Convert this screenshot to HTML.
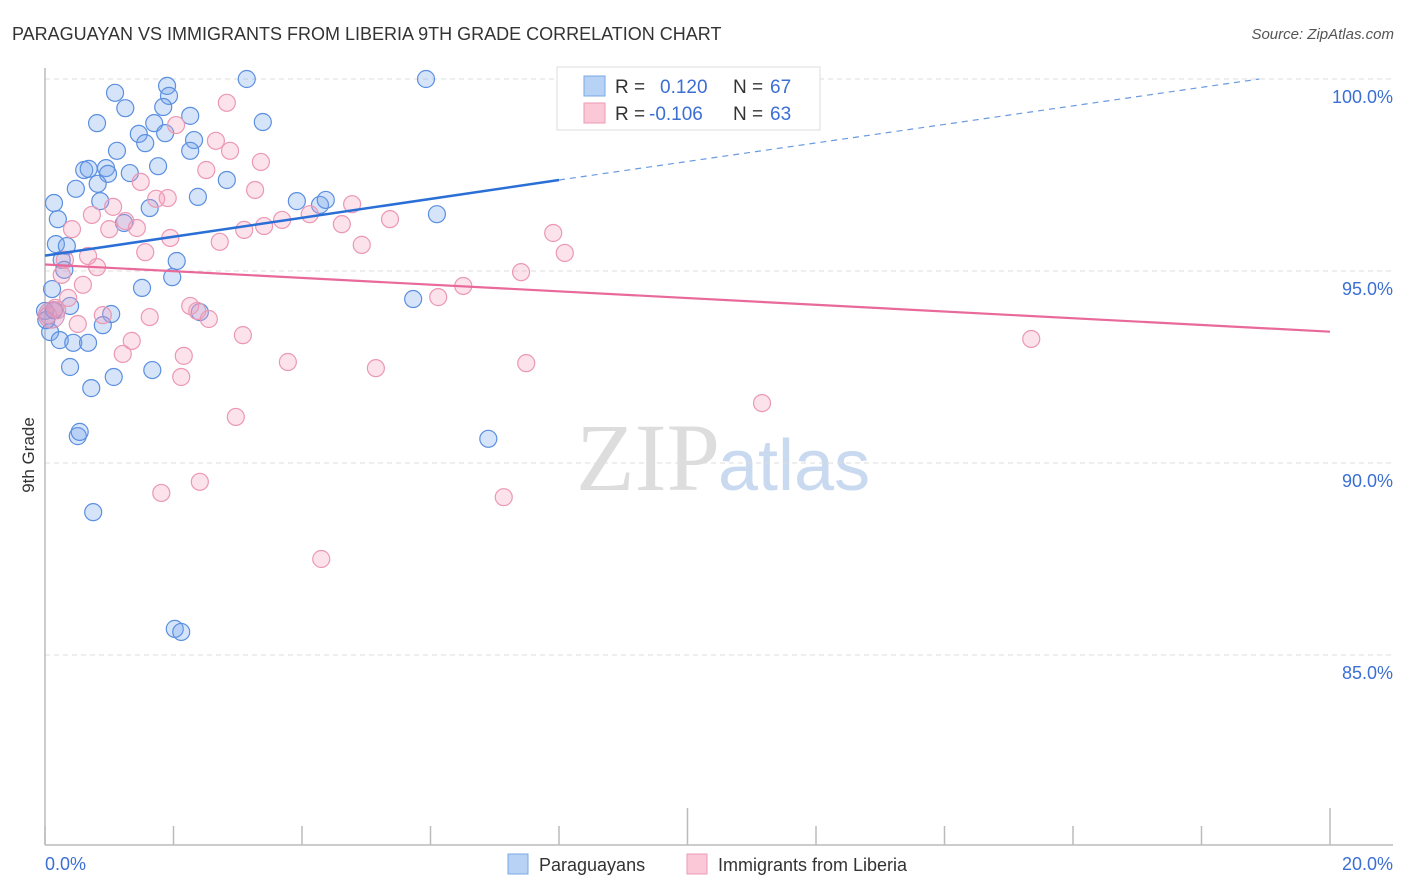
<!DOCTYPE html>
<html><head><meta charset="utf-8"><style>
body{margin:0;background:#fff;font-family:"Liberation Sans",sans-serif;}
svg{display:block}
</style></head><body>
<svg id="chart" width="1406" height="892" xmlns="http://www.w3.org/2000/svg">
<text x="12" y="40" font-size="18" fill="#333">PARAGUAYAN VS IMMIGRANTS FROM LIBERIA 9TH GRADE CORRELATION CHART</text>
<text x="1394" y="39" font-size="15" fill="#555" font-style="italic" text-anchor="end">Source: ZipAtlas.com</text>
<text x="34" y="455" font-size="17" fill="#333" transform="rotate(-90 34 455)" text-anchor="middle">9th Grade</text>
<text x="720" y="490" font-size="96" fill="#ddd" text-anchor="end" font-family="Liberation Serif,serif">ZIP</text>
<text x="718" y="490" font-size="72" fill="#c9d9f0">atlas</text>
<g id="grid"></g><g id="axes"></g><g id="pts"></g><g id="trend"></g>
<g>
<rect x="557" y="67" width="263" height="63" fill="#fff" stroke="#ddd"/>
<rect x="584" y="76" width="21" height="20" fill="#b8d2f5" stroke="#7aa7e6"/>
<rect x="584" y="103" width="21" height="20" fill="#fbc8d7" stroke="#ee9ab5"/>
<text x="615" y="93" font-size="19" fill="#333">R = </text><text x="660" y="93" font-size="19" fill="#3b6fd4">0.120</text>
<text x="733" y="93" font-size="19" fill="#333">N = </text><text x="770" y="93" font-size="19" fill="#3b6fd4">67</text>
<text x="615" y="120" font-size="19" fill="#333">R = </text><text x="649" y="120" font-size="19" fill="#3b6fd4">-0.106</text>
<text x="733" y="120" font-size="19" fill="#333">N = </text><text x="770" y="120" font-size="19" fill="#3b6fd4">63</text>
</g>
<g>
<rect x="508" y="854" width="20" height="20" fill="#b8d2f5" stroke="#7aa7e6"/>
<text x="539" y="871" font-size="18" fill="#333">Paraguayans</text>
<rect x="687" y="854" width="20" height="20" fill="#fbc8d7" stroke="#ee9ab5"/>
<text x="718" y="871" font-size="18" fill="#333">Immigrants from Liberia</text>
</g>
</svg>
<script>
const blueX=[1.09,1.90,1.93,3.14,5.93,1.25,0.81,1.84,2.26,3.39,1.70,1.46,1.87,2.32,1.56,1.12,2.26,1.76,0.61,0.68,0.95,0.98,1.32,0.82,0.48,2.83,2.38,0.86,1.63,3.92,4.28,4.37,6.10,0.14,0.20,1.23,0.17,0.34,0.26,0.30,2.05,1.98,0.11,0.39,1.51,1.03,0.90,2.41,5.73,0.08,0.23,0.44,0.67,0.39,1.07,1.67,0.72,0.51,0.54,6.90,0.75,2.02,2.12,0,0.02,0.14];
const blueY=[99.64,99.82,99.56,100,100,99.24,98.85,99.27,99.04,98.88,98.85,98.57,98.59,98.41,98.33,98.13,98.13,97.73,97.63,97.66,97.68,97.53,97.55,97.27,97.14,97.37,96.93,96.82,96.64,96.82,96.72,96.85,96.48,96.77,96.35,96.25,95.70,95.65,95.29,95.03,95.26,94.84,94.53,94.09,94.56,93.88,93.59,93.93,94.27,93.41,93.20,93.13,93.13,92.50,92.24,92.42,91.95,90.70,90.81,90.63,88.72,85.68,85.60,93.96,93.72,93.98];
const pinkX=[9.42,2.83,2.04,2.66,2.88,3.36,1.49,2.51,1.91,1.73,3.27,1.06,0.73,1.25,1.00,0.42,1.43,1.56,1.95,2.72,3.10,3.41,3.69,4.12,4.62,4.78,5.37,4.93,7.91,8.09,7.41,6.51,6.12,0.67,0.81,0.31,0.26,0.59,0.36,0.19,0.05,0.90,0.51,1.63,2.26,2.37,2.55,1.35,1.21,2.16,3.08,3.78,5.15,7.49,2.12,2.97,11.16,15.35,1.81,2.41,7.14,4.30,0.16];
const pinkY=[100,99.38,98.80,98.39,98.13,97.84,97.32,97.63,96.90,96.88,97.11,96.67,96.46,96.30,96.09,96.09,96.12,95.49,95.86,95.76,96.07,96.17,96.33,96.48,96.22,96.74,96.35,95.68,95.99,95.47,94.97,94.61,94.32,95.39,95.10,95.29,94.90,94.64,94.30,93.98,93.85,93.85,93.62,93.80,94.09,93.96,93.75,93.18,92.84,92.79,93.33,92.63,92.47,92.60,92.24,91.20,91.56,93.23,89.22,89.51,89.11,87.50,94.04];
const yTicks=[100,95,90,85];
const yTickLabels=["100.0%","95.0%","90.0%","85.0%"];
const xTicks=[0,2,4,6,8,10,12,14,16,18,20];
const blueTrend=[95.4,97.37,100]; const blueTrendX=[0,8,18.9];
const pinkTrend=[95.17,93.42]; const pinkTrendX=[0,20];
const NS="http://www.w3.org/2000/svg";
const sx=v=>45+v*64.25, sy=v=>79+(100-v)*38.4;
function mk(tag,attrs,parent){const e=document.createElementNS(NS,tag);for(const k in attrs)e.setAttribute(k,attrs[k]);document.getElementById(parent).appendChild(e);return e;}
yTicks.forEach((t,i)=>{
 const l=mk('line',{x1:45,x2:1393,y1:sy(t),y2:sy(t),stroke:'#ddd','stroke-dasharray':'5,4'},'grid');
 
 
 const tx=mk('text',{x:1393,y:sy(t)+24,'font-size':18,fill:'#3b6fd4','text-anchor':'end'},'grid');
 tx.textContent=yTickLabels[i];
 
 
});
const ax=mk('line',{x1:45,x2:45,y1:68,y2:845,stroke:'#bbb','stroke-width':1.5},'axes');


const bx=mk('line',{x1:45,x2:1393,y1:845,y2:845,stroke:'#bbb','stroke-width':1.5},'axes');


xTicks.forEach(t=>{
 const major=(t===10||t===20);
 const l=mk('line',{x1:sx(t),x2:sx(t),y1:major?808:826,y2:845,stroke:'#bbb','stroke-width':1.5},'axes');
 
 
});
const x0=mk('text',{x:45,y:870,'font-size':18,fill:'#3b6fd4'},'axes');x0.textContent='0.0%';


const x1=mk('text',{x:1393,y:870,'font-size':18,fill:'#3b6fd4','text-anchor':'end'},'axes');x1.textContent='20.0%';


function pts(X,Y,fill,stroke,name){X.forEach((x,i)=>{
 const c=mk('circle',{cx:sx(x),cy:sy(Y[i]),r:8.5,fill:fill,stroke:stroke,'stroke-width':1.2},'pts');
 
 
});}
pts(blueX,blueY,'rgba(120,165,235,0.3)','#5b8fe0','point-paraguayans');
pts(pinkX,pinkY,'rgba(245,160,190,0.3)','#eb98b3','point-liberia');
const big=mk('circle',{cx:sx(0.1),cy:sy(93.85),r:13,fill:'rgba(200,140,190,0.35)',stroke:'#d890b5'},'pts');


const b1=mk('line',{x1:sx(blueTrendX[0]),y1:sy(blueTrend[0]),x2:sx(blueTrendX[1]),y2:sy(blueTrend[1]),stroke:'#2a6fd6','stroke-width':2.5},'trend');


const b2=mk('line',{x1:sx(blueTrendX[1]),y1:sy(blueTrend[1]),x2:sx(blueTrendX[2]),y2:sy(blueTrend[2]),stroke:'#6a9ae0','stroke-width':1.2,'stroke-dasharray':'6,5'},'trend');


const p1=mk('line',{x1:sx(pinkTrendX[0]),y1:sy(pinkTrend[0]),x2:sx(pinkTrendX[1]),y2:sy(pinkTrend[1]),stroke:'#e8699a','stroke-width':2.2},'trend');


</script>
</body></html>
